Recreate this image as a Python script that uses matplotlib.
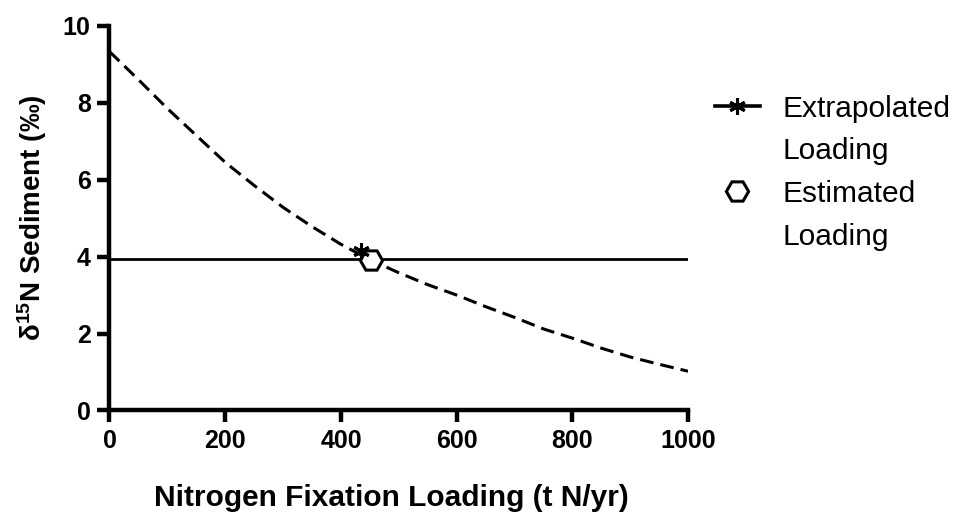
import numpy as np
import matplotlib.pyplot as plt
from matplotlib.lines import Line2D

plt.rcParams['font.family'] = ['Liberation Sans', 'DejaVu Sans']
plt.rcParams['mathtext.fontset'] = 'custom'
plt.rcParams['mathtext.bf'] = 'Liberation Sans:bold'
plt.rcParams['mathtext.rm'] = 'Liberation Sans:bold'
plt.rcParams['mathtext.default'] = 'bf'

# curve
loading = [0, 50, 100, 150, 200, 250, 300, 350, 400, 450, 500,
           550, 600, 650, 700, 750, 800, 850, 900, 950, 1000]
d15n = [9.33, 8.60, 7.85, 7.15, 6.45, 5.85, 5.28, 4.78, 4.32, 3.92, 3.58,
        3.27, 3.00, 2.70, 2.42, 2.12, 1.88, 1.62, 1.39, 1.20, 1.02]

# measured sediment value (horizontal line)
line_x = [0, 1000]
line_y = [3.93, 3.93]

extrap_x, extrap_y = [435], [4.15]
estim_x, estim_y = [452], [3.91]

xticks = [0, 200, 400, 600, 800, 1000]
yticks = [0, 2, 4, 6, 8, 10]

fig = plt.figure(figsize=(9.58, 5.16), dpi=100)
ax = fig.add_axes([0.1143, 0.2045, 0.604, 0.7455])

ax.plot(loading, d15n, color='black', lw=2.2, dashes=(4.5, 2.3))
ax.plot(line_x, line_y, color='black', lw=2.0)
ax.plot(extrap_x, extrap_y, ls='none', marker=(6, 2, 0), ms=12, mew=2.2,
        color='black', zorder=5)
ax.plot(estim_x, estim_y, ls='none', marker='H', ms=16, mew=2.2,
        mfc='white', mec='black', zorder=4)

ax.set_xlim(0, 1000)
ax.set_ylim(0, 10)
ax.set_xticks(xticks)
ax.set_yticks(yticks)
for s in ['top', 'right']:
    ax.spines[s].set_visible(False)
for s in ['left', 'bottom']:
    ax.spines[s].set_linewidth(3.2)
    ax.spines[s].set_capstyle('projecting')
ax.tick_params(width=3.2, length=8.5, labelsize=18, pad=5)
for lab in ax.get_xticklabels() + ax.get_yticklabels():
    lab.set_fontweight('bold')

ax.set_xlabel('Nitrogen Fixation Loading (t N/yr)', fontsize=21.5,
              fontweight='bold')
ax.xaxis.set_label_coords(0.487, -0.19)
ax.set_ylabel(r'δ$^{15}$N Sediment (‰)', fontsize=20, fontweight='bold',
              labelpad=10)

blank = Line2D([], [], ls='none')
handles = [
    Line2D([], [], color='black', lw=2.6, marker=(6, 2, 0), ms=12, mew=2.2),
    blank,
    Line2D([], [], ls='none', marker='H', ms=16, mew=2.2, mfc='white',
           mec='black'),
    blank,
]
labels = ['Extrapolated', 'Loading', 'Estimated', 'Loading']
fig.legend(handles, labels, loc='upper left',
           bbox_to_anchor=(0.7463, 0.8165), frameon=False,
           fontsize=21.5, handlelength=1.5, handletextpad=0.77,
           labelspacing=0.49, borderpad=0, borderaxespad=0)

fig.savefig('out.png', dpi=100)
